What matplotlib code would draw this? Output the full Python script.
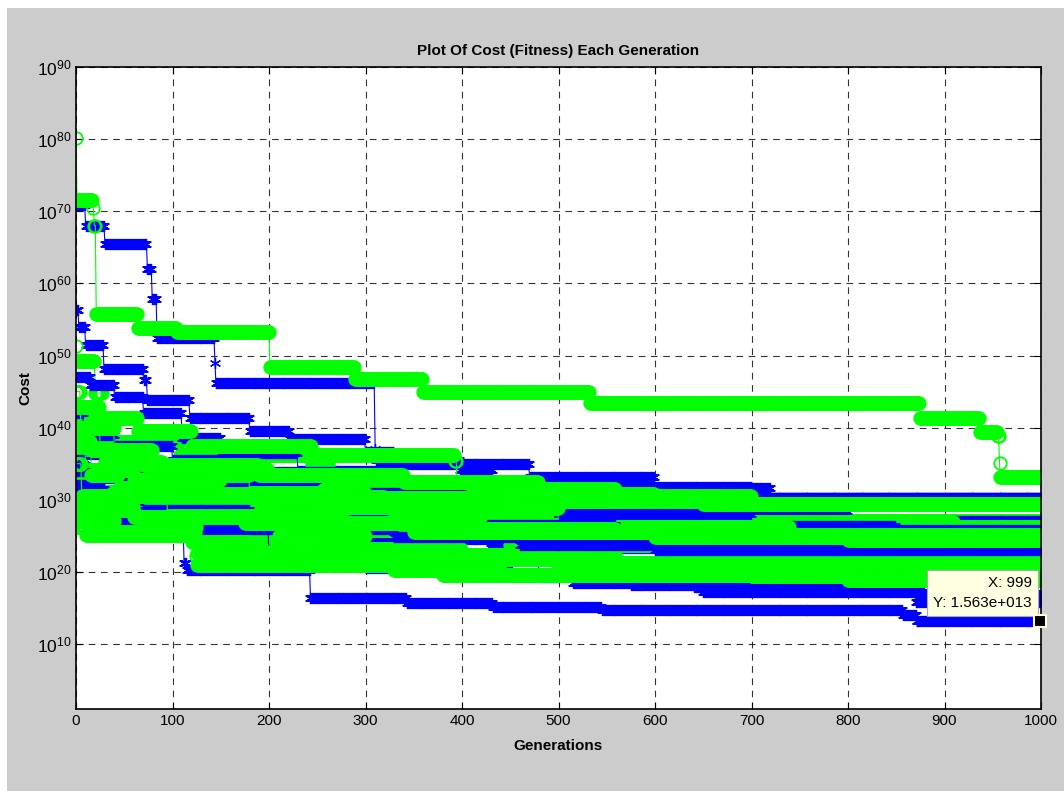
import numpy as np
import matplotlib
matplotlib.use("Agg")
import matplotlib.pyplot as plt
from matplotlib.patches import Rectangle
from matplotlib.ticker import FixedLocator, LogFormatterSciNotation, NullLocator

plt.rcParams['font.family'] = ['Liberation Sans', 'DejaVu Sans']
plt.rcParams['mathtext.default'] = 'regular'

# best cost per generation, stored as step changes: (generation, log10 cost)
tip_gen = 999
tip_cost = 1.563e13

blue_runs = [
    [(0, 70.8), (10, 68.0), (30, 65.4), (74, 62.0), (79, 57.9), (84, 52.5), (144, 49.0), (145, 46.2),
     (310, 37.1), (311, 35.5), (398, 34.1), (432, 32.4), (536, 31.1), (640, 30.2)],
    [(0, 56.3), (3, 53.9), (10, 51.4), (29, 48.2), (70, 46.6), (74, 43.8), (118, 41.4), (180, 39.6),
     (222, 38.4), (300, 36.6), (330, 35.0), (470, 33.2), (600, 31.6), (720, 30.2)],
    [(0, 47.0), (15, 45.9), (40, 44.2), (70, 42.0), (110, 38.5), (150, 36.5), (230, 34.0), (330, 32.6),
     (450, 31.8), (700, 30.2)],
    [(0, 42.0), (8, 39.0), (40, 37.5), (100, 35.5), (150, 33.8), (300, 32.4), (480, 30.4), (620, 29.8)],
    [(0, 38.8), (5, 36.3), (30, 34.5), (90, 33.0), (140, 32.0), (250, 31.0), (400, 29.4), (600, 28.5),
     (800, 27.0)],
    [(0, 35.5), (10, 33.0), (60, 31.5), (170, 30.5), (330, 29.8), (500, 28.0), (700, 26.4), (850, 25.8)],
    [(0, 33.5), (5, 31.5), (30, 29.0), (110, 28.0), (250, 27.2), (420, 26.5), (560, 24.5), (760, 23.0)],
    [(0, 32.0), (25, 28.6), (40, 26.5), (95, 25.8), (250, 24.5), (430, 23.3), (640, 23.0)],
    [(0, 31.5), (30, 26.0), (112, 21.3), (115, 20.3), (243, 16.4), (343, 15.7), (432, 15.1), (545, 14.7),
     (857, 14.0), (871, np.log10(tip_cost))],
    [(0, 30.5), (22, 28.0), (55, 25.4), (150, 24.6), (220, 22.8), (329, 21.7), (480, 19.3), (515, 18.4),
     (640, 17.9), (870, 15.8)],
    [(0, 29.8), (35, 27.4), (100, 26.6), (200, 22.0), (300, 20.6), (450, 19.8), (575, 18.2), (650, 17.2),
     (880, 16.8)],
    [(0, 34.0), (12, 30.0), (70, 28.6), (180, 26.0), (330, 24.8), (460, 23.7), (600, 23.0)],
]

green_runs = [
    [(0, 80.1), (1, 71.5), (18, 70.5), (19, 68.0), (21, 55.8), (64, 53.8), (105, 53.2), (201, 48.4),
     (289, 46.8), (360, 44.9), (533, 43.4), (875, 41.4), (937, 39.4), (955, 38.8), (957, 35.1), (958, 33.1)],
    [(0, 51.3), (1, 49.2), (20, 44.8), (28, 38.0), (108, 36.2), (393, 35.4), (395, 31.7), (470, 30.6),
     (560, 29.4)],
    [(0, 41.4), (64, 39.6), (120, 37.4), (245, 34.8), (262, 32.0), (420, 30.8), (600, 29.4)],
    [(0, 42.8), (25, 36.9), (80, 34.1), (200, 31.6), (330, 30.4), (480, 28.6), (605, 27.6), (700, 27.0)],
    [(0, 36.9), (30, 35.2), (90, 33.4), (180, 31.0), (300, 29.9), (430, 28.0), (550, 26.9), (910, 26.2)],
    [(0, 38.5), (10, 34.1), (60, 32.7), (150, 30.4), (320, 28.8), (500, 26.2), (740, 25.1)],
    [(0, 32.7), (15, 31.1), (80, 30.0), (200, 29.0), (330, 27.5), (420, 26.0), (560, 24.8), (900, 24.0)],
    [(0, 31.1), (5, 29.5), (120, 28.2), (260, 26.6), (380, 25.2), (520, 24.0), (700, 23.3)],
    [(0, 29.5), (30, 28.4), (140, 27.0), (280, 25.8), (450, 23.8), (650, 22.2), (760, 22.0)],
    [(0, 26.2), (10, 25.1), (120, 24.2), (240, 23.2), (400, 22.4), (560, 21.2)],
    [(0, 28.6), (79, 26.2), (125, 22.6), (300, 21.8), (500, 20.8), (620, 20.3)],
    [(0, 27.0), (40, 25.6), (124, 22.2), (125, 20.9), (330, 20.3), (440, 19.6), (800, 18.9)],
    [(0, 30.0), (20, 29.0), (60, 27.6), (175, 26.8), (350, 25.6), (600, 24.8), (800, 24.4)],
    [(0, 45.0), (5, 40.0), (40, 36.2), (70, 34.8), (190, 33.5), (340, 32.5), (480, 31.5), (560, 30.5),
     (700, 29.4)],
    [(0, 38.0), (16, 33.5), (45, 31.6), (140, 30.8), (280, 30.2), (450, 29.8), (650, 29.4)],
    [(0, 35.0), (6, 30.5), (95, 27.8), (210, 25.0), (300, 22.0), (380, 19.6), (700, 19.4)],
]

gens = np.arange(0, 1000)


def expand(steps):
    g = np.array([s[0] for s in steps])
    e = np.array([s[1] for s in steps])
    idx = np.searchsorted(g, gens, side='right') - 1
    return 10.0 ** e[idx]


def matlab_exp(v):
    # 1.563e+013 style, three-digit exponent
    m, ex = ('%.3e' % v).split('e')
    return '%se%+04d' % (m, int(ex))


fig = plt.figure(figsize=(10.64, 7.91), dpi=100)
fig.patch.set_facecolor('white')
fig.patches.append(Rectangle((7 / 1064, 0), 1, 1 - 8 / 791, transform=fig.transFigure,
                             facecolor='#cccccc', edgecolor='none', zorder=-10))

ax = fig.add_axes([76 / 1064, 1 - 709 / 791, (1041 - 76) / 1064, (709 - 67) / 791])
ax.set_facecolor('white')

n = max(len(blue_runs), len(green_runs))
for i in range(n):
    if i < len(blue_runs):
        ax.plot(gens, expand(blue_runs[i]), '-', color='blue', lw=0.8,
                marker=(6, 2, 0), ms=8, mew=0.9)
    if i < len(green_runs):
        ax.plot(gens, expand(green_runs[i]), '-', color='#00ff00', lw=0.8,
                marker='o', ms=9, mfc='none', mew=1.3)

ax.set_yscale('log')
ax.set_xlim(0, 1000)
ax.set_ylim(1e1, 1e90)
ax.set_xticks(np.arange(0, 1001, 100))
ax.yaxis.set_major_locator(FixedLocator([10.0 ** k for k in range(10, 91, 10)]))
ax.yaxis.set_minor_locator(NullLocator())
ax.yaxis.set_major_formatter(LogFormatterSciNotation())
ax.tick_params(direction='in', which='both', top=True, right=True, length=5)
ax.tick_params(axis='x', labelsize=11)
ax.tick_params(axis='y', labelsize=12.5)
ax.grid(True, color='black', linestyle=(0, (6, 5)), linewidth=0.8, alpha=0.8)
for sp in ax.spines.values():
    sp.set_linewidth(1.2)

ax.set_title('Plot Of Cost (Fitness) Each Generation', fontsize=11, fontweight='bold', pad=9)
ax.set_xlabel('Generations', fontsize=11, fontweight='bold', labelpad=8)
ax.set_ylabel('Cost', fontsize=11, fontweight='bold', labelpad=3)

# data cursor
ax.plot([tip_gen], [tip_cost], 's', ms=8, mfc='black', mec='#ffffe1', mew=1.5, zorder=12, clip_on=False)
ax.annotate('X: %d\nY: %s' % (tip_gen, matlab_exp(tip_cost)),
            xy=(tip_gen, tip_cost), xytext=(-6, 8), textcoords='offset points',
            ha='right', va='bottom', multialignment='right', fontsize=11, linespacing=1.5, zorder=11,
            bbox=dict(boxstyle='square,pad=0.4', fc='#ffffe1', ec='#aaaaaa', lw=0.8))

fig.savefig('out.png', dpi=100, facecolor=fig.get_facecolor())
